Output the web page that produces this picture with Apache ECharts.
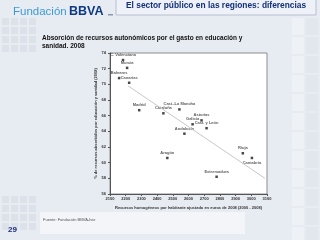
<!DOCTYPE html>
<html lang="es">
<head>
    <meta charset="UTF-8">
    <script src="https://cdn.jsdelivr.net/npm/echarts@6/dist/echarts.min.js"></script>
    <style>
        html, body { margin: 0; padding: 0; background: #e7ebf2; }
        #chart { width: 320px; height: 240px; }
    </style>
</head>
<body>
<div id="chart"></div>
<script>
    // regiones (recursos homogéneos per cápita, % absorbido por educación y sanidad)
    var regiones = ['C. Valenciana', 'Murcia', 'Baleares', 'Canarias', 'Madrid', 'Cataluña',
        'Cast.-La Mancha', 'Asturias', 'Galicia', 'Cast. y León', 'Andalucía', 'Aragón',
        'Rioja', 'Cantabria', 'Extremadura'];
    var recursos = [2183, 2209, 2158, 2222, 2286, 2440, 2542, 2683, 2626, 2715, 2574, 2465, 2946, 3004, 2779];
    var absorcion = [73.1, 72.1, 70.8, 70.2, 66.7, 66.3, 66.8, 65.4, 64.9, 64.4, 63.7, 60.6, 61.2, 60.6, 58.2];
    // recta de tendencia (extremos)
    var tendX = [2215, 3087];
    var tendY = [69.8, 58.0];

    var chart = echarts.init(document.getElementById('chart'));

    var puntos = regiones.map(function (r, i) {
        var p = { value: [recursos[i], absorcion[i], r] };
        if (r === 'Cantabria') p.label = { position: 'bottom' };
        return p;
    });

    var deco = [];
    // cuadritos decorativos a la izquierda y a la derecha
    for (var i = 0; i < 4; i++) {
        for (var j = 0; j < 4; j++) {
            deco.push({ type: 'rect', shape: { x: 2 + i * 9, y: 18 + j * 9, width: 7, height: 7 },
                style: { fill: '#dde2ea' }, silent: true });
            deco.push({ type: 'rect', shape: { x: 2 + i * 9, y: 196 + j * 9, width: 7, height: 7 },
                style: { fill: '#dde2ea' }, silent: true });
        }
    }
    for (var k = 0; k < 12; k++) {
        deco.push({ type: 'rect', shape: { x: 292, y: 18 + k * 19, width: 12, height: 17 },
            style: { fill: '#eef1f6' }, silent: true });
        deco.push({ type: 'rect', shape: { x: 306, y: 18 + k * 19, width: 12, height: 17 },
            style: { fill: '#e2e6ed' }, silent: true });
    }

    var option = {
        animation: false,
        backgroundColor: '#e7ebf2',
        graphic: deco.concat([
            // franja del pie
            { type: 'rect', shape: { x: 40, y: 212, width: 205, height: 22 }, style: { fill: '#f3f5f9' }, silent: true },
            // logo
            { type: 'text', left: 13, top: 6, style: { text: 'Fundación', fill: '#3d9ad6', font: '11.5px "Liberation Sans", Arial' } },
            { type: 'text', left: 69, top: 5, style: { text: 'BBVA', fill: '#0e3a83', font: 'bold 12.5px "Liberation Sans", Arial' } },
            // cabecera
            { type: 'rect', shape: { x: 116, y: -2, width: 200, height: 17 },
                style: { fill: '#eef1f7', stroke: '#b8c1d1', lineWidth: 1 }, silent: true },
            { type: 'rect', shape: { x: 108, y: 14, width: 5, height: 1.5 }, style: { fill: '#8a97ad' }, silent: true },
            { type: 'text', left: 126, top: 2, style: { text: 'El sector público en las regiones: diferencias',
                fill: '#12307a', font: 'bold 8.4px "Liberation Sans", Arial' } },
            // subtítulo
            { type: 'text', left: 42, top: 34, style: { text: 'Absorción de recursos autonómicos por el gasto en educación y\nsanidad. 2008',
                fill: '#111', font: 'bold 6.5px "Liberation Sans", Arial', lineHeight: 8 } },
            // fuente y número de página
            { type: 'text', left: 43, top: 218, style: { text: 'Fuente: Fundación BBVA-Ivie', fill: '#555', font: '4px "Liberation Sans", Arial' } },
            { type: 'text', left: 8, top: 226, style: { text: '29', fill: '#1d2f7a', font: 'bold 8px "Liberation Sans", Arial' } }
        ]),
        grid: { left: 110, top: 53, width: 157, height: 141, show: true,
            backgroundColor: '#ffffff', borderColor: '#8d8d8d', borderWidth: 1 },
        xAxis: {
            type: 'value', min: 2100, max: 3100, interval: 100,
            name: 'Recursos homogéneos por habitante ajustado en euros de 2008 (2000 - 2008)',
            nameLocation: 'middle', nameGap: 9,
            nameTextStyle: { fontSize: 4, color: '#333', fontWeight: 'bold' },
            axisLine: { lineStyle: { color: '#555' } },
            axisTick: { length: 2, lineStyle: { color: '#555' } },
            axisLabel: { fontSize: 4, color: '#333', margin: 3, fontWeight: 'bold',
                formatter: function (v) { return String(v); } },
            splitLine: { show: false }
        },
        yAxis: {
            type: 'value', min: 56, max: 74, interval: 2,
            name: '% de recursos absorbidos por educación y sanidad (2008)',
            nameLocation: 'middle', nameGap: 9, nameRotate: 90,
            nameTextStyle: { fontSize: 4, color: '#333', fontWeight: 'bold' },
            axisLine: { lineStyle: { color: '#555' } },
            axisTick: { length: 2, lineStyle: { color: '#555' } },
            axisLabel: { fontSize: 4, color: '#333', margin: 4, fontWeight: 'bold' },
            splitLine: { show: false }
        },
        series: [
            {
                type: 'line',
                data: [[tendX[0], tendY[0]], [tendX[1], tendY[1]]],
                symbol: 'none',
                silent: true,
                lineStyle: { color: '#c8c8c8', width: 1 }
            },
            {
                type: 'scatter',
                data: puntos,
                symbol: 'rect',
                symbolSize: 2.5,
                itemStyle: { color: '#1a1a1a' },
                label: {
                    show: true, position: 'top', distance: 2,
                    formatter: function (p) { return p.value[2]; },
                    fontSize: 4, color: '#333', fontWeight: 'bold'
                }
            }
        ]
    };
    chart.setOption(option);
</script>
</body>
</html>
